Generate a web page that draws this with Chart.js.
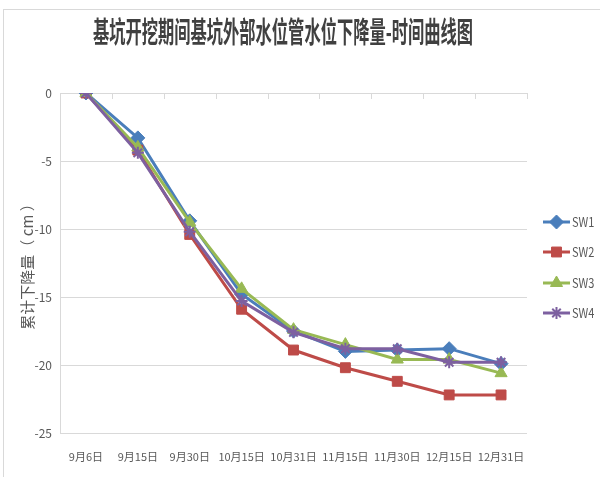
<!DOCTYPE html>
<html>
<head>
<meta charset="utf-8">
<script src="https://cdn.jsdelivr.net/npm/chart.js@4/dist/chart.umd.min.js"></script>
<style>
  html, body { margin: 0; padding: 0; background: #fff; }
  #wrap { width: 600px; height: 477px; position: relative; }
</style>
</head>
<body>
<div id="wrap"><canvas id="chart"></canvas></div>
<script>
// values
const labels = ["9月6日", "9月15日", "9月30日", "10月15日", "10月31日", "11月15日", "11月30日", "12月15日", "12月31日"];
const sw1 = [0, -3.3, -9.4, -14.8, -17.5, -19.0, -18.9, -18.8, -19.9];
const sw2 = [0, -4.2, -10.4, -15.9, -18.9, -20.2, -21.2, -22.2, -22.2];
const sw3 = [0, -4.0, -9.5, -14.4, -17.4, -18.5, -19.6, -19.6, -20.6];
const sw4 = [0, -4.4, -10.2, -15.3, -17.6, -18.8, -18.8, -19.8, -19.8];
const seriesNames = ["SW1", "SW2", "SW3", "SW4"];

const titleText = "基坑开挖期间基坑外部水位管水位下降量-时间曲线图";
const yTitle = "累计下降量（ cm ）";
const textColor = "#595959";
const gridColor = "#d9d9d9";
const cjk = "'Noto Sans CJK SC', 'Noto Sans', sans-serif";

const makeSet = (name, data, color, style, radius, order) => ({
  label: name,
  data: data,
  borderColor: color,
  backgroundColor: color,
  borderWidth: 3,
  pointStyle: style,
  pointRadius: radius,
  pointHoverRadius: radius,
  pointBorderWidth: style === "star" ? 2 : 1,
  tension: 0,
  order: order,
});

// title, frame, top tick marks and legend drawn by hand
const decorations = {
  id: "decorations",
  beforeDraw(chart) {
    const ctx = chart.ctx;
    ctx.save();
    ctx.strokeStyle = gridColor;
    ctx.lineWidth = 1;
    ctx.strokeRect(3.5, 9.5, 700, 600);
    ctx.restore();
  },
  afterDatasetsDraw(chart) {
    const ctx = chart.ctx;
    const x = chart.scales.x;
    const area = chart.chartArea;
    // tick marks under the 0 line, at category boundaries
    ctx.save();
    ctx.strokeStyle = gridColor;
    ctx.lineWidth = 1;
    const step = x.getPixelForValue(1) - x.getPixelForValue(0);
    for (let i = 0; i <= labels.length; i++) {
      const px = Math.round(x.getPixelForValue(0) - step / 2 + i * step) + 0.5;
      ctx.beginPath();
      ctx.moveTo(px, area.top);
      ctx.lineTo(px, area.top + 6);
      ctx.stroke();
    }
    ctx.restore();
  },
  afterDraw(chart) {
    const ctx = chart.ctx;
    // title, squeezed to the narrow width of the original
    ctx.save();
    ctx.fillStyle = "#404040";
    ctx.font = "bold 29px " + cjk;
    ctx.textAlign = "center";
    ctx.textBaseline = "middle";
    const w = ctx.measureText(titleText).width;
    ctx.translate(283, 32);
    ctx.scale(380 / w, 1);
    ctx.fillText(titleText, 0, 0);
    ctx.restore();

    // legend
    const legendY = [222, 252, 283, 313];
    ctx.save();
    chart.data.datasets.forEach((ds, i) => {
      const y = legendY[i];
      ctx.strokeStyle = ds.borderColor;
      ctx.lineWidth = 3;
      ctx.beginPath();
      ctx.moveTo(543, y);
      ctx.lineTo(570, y);
      ctx.stroke();
      ctx.fillStyle = ds.backgroundColor;
      ctx.lineWidth = ds.pointBorderWidth;
      Chart.helpers.drawPoint(ctx, {
        pointStyle: ds.pointStyle,
        radius: ds.pointRadius,
        borderWidth: ds.pointBorderWidth,
        rotation: 0,
      }, 556.5, y);
      ctx.save();
      ctx.fillStyle = textColor;
      ctx.font = "13px " + cjk;
      ctx.textBaseline = "middle";
      ctx.translate(572, y);
      ctx.scale(0.85, 1);
      ctx.fillText(seriesNames[i], 0, 0);
      ctx.restore();
    });
    ctx.restore();
  },
};

new Chart(document.getElementById("chart"), {
  type: "line",
  data: {
    labels: labels,
    datasets: [
      makeSet(seriesNames[0], sw1, "#4a7ebb", "rectRot", 7, 4),
      makeSet(seriesNames[1], sw2, "#be4b48", "rect", 7, 3),
      makeSet(seriesNames[2], sw3, "#98b954", "triangle", 7, 2),
      makeSet(seriesNames[3], sw4, "#7d60a0", "star", 6, 1),
    ],
  },
  options: {
    responsive: true,
    maintainAspectRatio: false,
    animation: false,
    layout: { padding: { top: 93, right: 73, left: 0, bottom: 0 } },
    plugins: {
      legend: { display: false },
      tooltip: { enabled: false },
    },
    scales: {
      x: {
        offset: true,
        grid: { display: false },
        border: { display: false },
        ticks: {
          color: textColor,
          font: { family: cjk, size: 11 },
          maxRotation: 0,
          autoSkip: false,
          padding: 9,
        },
        afterFit: (scale) => { scale.height = 44; },
      },
      y: {
        min: -25,
        max: 0,
        ticks: {
          stepSize: 5,
          color: textColor,
          font: { family: cjk, size: 12 },
          padding: 8,
        },
        grid: { color: gridColor, lineWidth: 1, drawTicks: false },
        border: { color: gridColor },
        title: {
          display: true,
          text: yTitle,
          color: textColor,
          font: { family: cjk, size: 15 },
          padding: { top: 18, bottom: 0 },
        },
        afterFit: (scale) => { scale.width = 60; },
      },
    },
  },
  plugins: [decorations],
});
</script>
</body>
</html>
